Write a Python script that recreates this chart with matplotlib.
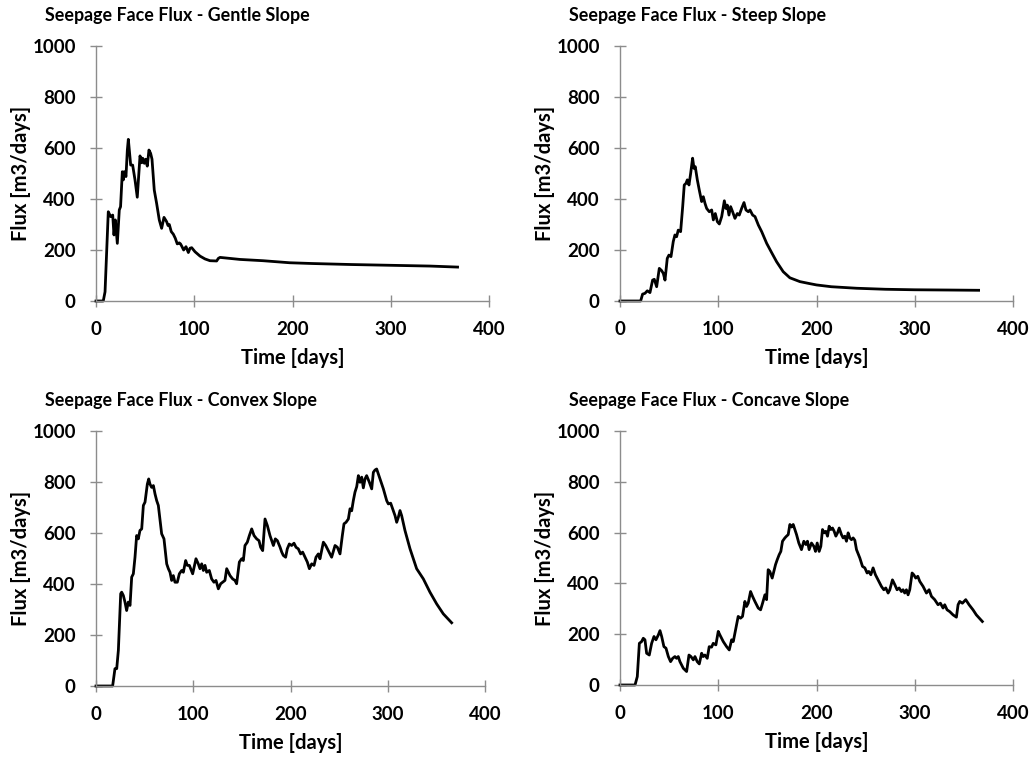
import matplotlib
matplotlib.use("Agg")
import matplotlib.pyplot as plt

plt.rcParams['font.family'] = ['Lato', 'DejaVu Sans']

# ---- data ----
gentle_t = [0, 7.4, 9.2, 12.5, 14.9, 17, 18.3, 19.7, 21.7, 23.7, 25, 26.8, 27.8, 28.8, 30.5, 31.9, 32.9,
            33.9, 35.3, 37.3, 39.7, 42, 44.8, 46.5, 47.5, 49.2, 50.5, 52.2, 53.9, 55.6, 57, 59.3, 61.7,
            64.4, 66.8, 69.2, 71.9, 73.3, 74.6, 76.6, 78.7, 80.7, 82.7, 84.7, 86, 87.4, 89.2, 91.6, 94,
            95.7, 97.4, 100.8, 105.9, 110.9, 116, 122.8, 124.5, 126.2, 146.5, 170, 197, 220, 260, 300,
            340, 368]
gentle_q = [0, 0, 36, 350, 331, 337, 259, 318, 226, 357, 370, 507, 475, 507, 488, 592, 634,
            592, 533, 533, 475, 407, 569, 542, 560, 540, 556, 529, 592, 579, 556, 435, 383,
            318, 285, 328, 311, 296, 300, 272, 262, 246, 224, 228, 224, 214, 200, 213, 190,
            207, 209, 193, 176, 165, 158, 157, 167, 171, 163, 158, 150, 147, 143, 140,
            137, 133]

steep_t = [0, 21, 23, 25.4, 27.8, 30.5, 33.2, 34.9, 37.3, 40, 42.4, 44.1, 45.8, 48.1, 49.8, 51.9, 54.2,
           55.9, 57.6, 59.3, 61.7, 63.8, 65.4, 67.1, 68.5, 70.2, 71.9, 73.9, 75.3, 76.6, 78.7, 80.7,
           83.1, 84.8, 86.5, 88.2, 90.9, 93.3, 95, 97, 99.1, 101.1, 103.5, 106.2, 107.8, 109.2, 110.9,
           112.6, 114.6, 117, 119.4, 121.4, 123.8, 126.2, 128.2, 130.6, 132.3, 135, 137.4, 140.8,
           144.2, 149.3, 154.3, 159.4, 166.1, 172.9, 183.1, 193.3, 200, 215, 240.8, 270, 300, 335, 365]
steep_q = [0, 0, 27, 30, 40, 33, 82, 85, 56, 128, 119, 108, 82, 167, 180, 174, 233,
           259, 252, 278, 272, 370, 455, 461, 475, 455, 500, 560, 520, 527, 475, 435,
           390, 409, 383, 363, 350, 357, 318, 343, 311, 302, 331, 393, 363, 376, 337,
           370, 350, 324, 343, 337, 363, 386, 357, 350, 357, 337, 331, 298,
           272, 226, 190, 154, 115, 91, 76, 68, 63, 56, 50, 46, 44, 43, 42]

convex_t = [0, 17.1, 19.5, 21.3, 23, 25.4, 26.4, 28.1, 29.8, 31.5, 33.2, 35, 36.7, 38.4, 40.1, 41.8,
            43.5, 45.2, 47, 48.7, 50.4, 52.8, 54.2, 55.5, 57.2, 59, 60.7, 62.4, 64.1, 67.5, 69.9,
            72.7, 74.4, 76.1, 77.8, 79.5, 81.2, 83.6, 85.7, 88.1, 89.8, 92.2, 93.9, 96, 97.3, 99.4,
            102.8, 105.2, 106.9, 108.7, 110.4, 112.1, 113.8, 116.5, 118.9, 121.3, 123.4, 125.8,
            128.2, 130.2, 132.6, 134.4, 137.8, 140.5, 142.9, 144.6, 147.4, 149.8, 151.5, 153.2,
            155.6, 157.7, 160.1, 162.5, 165.2, 167.6, 169.3, 171.4, 173.8, 176.2, 178.9, 180.7,
            182.4, 184.4, 186.5, 189.3, 191, 192.6, 195, 196.7, 198.8, 201.2, 203.6, 205.7, 208,
            210.4, 212.5, 214.9, 217.3, 219.4, 221.8, 224.2, 226.2, 228.6, 230.3, 233.8, 236.2,
            238.9, 242.3, 245.8, 248.2, 250.9, 253.3, 255, 257.1, 259.5, 261.2, 262.9, 264.6,
            266.3, 268.1, 269.8, 271.5, 273.2, 274.9, 276.6, 278.3, 281.1, 283.5, 285.2, 286.9,
            288.6, 290.3, 292.7, 295.5, 298.9, 300.6, 303, 305.7, 307.5, 309.2, 310.9, 312.6,
            314.3, 317.7, 322.9, 329.7, 336.6, 343.4, 350.3, 357.1, 365.7]
convex_q = [0, 0, 68, 68, 140, 362, 368, 355, 329, 296, 329, 316, 427, 440, 505, 590,
            577, 610, 616, 708, 721, 792, 812, 792, 779, 786, 753, 727, 708, 597, 577,
            479, 460, 446, 414, 433, 407, 407, 440, 453, 446, 492, 473, 473, 460, 440,
            499, 479, 460, 479, 453, 473, 446, 453, 420, 407, 414, 381,
            401, 407, 414, 460, 433, 420, 414, 401, 486, 499, 492, 551,
            564, 590, 616, 590, 577, 570, 544, 531, 655, 629, 590, 570,
            551, 577, 570, 544, 525, 512, 505, 538, 557, 551, 560, 544, 538,
            518, 525, 505, 486, 460, 479, 473, 505, 518, 499, 564, 551,
            531, 505, 551, 544, 518, 590, 636, 642, 655, 695, 687, 727,
            760, 782, 825, 799, 819, 777, 812, 825, 799, 773, 838, 847,
            851, 832, 805, 773, 727, 714, 717, 688, 668, 642, 662, 688,
            668, 610, 538, 460, 420, 368, 322, 283, 248]

concave_t = [0, 15.3, 17.6, 19.7, 22, 23.7, 25.4, 27.1, 29.8, 32.2, 34.6, 36.6, 39, 40.7, 42.4, 44.7,
             46.8, 49.2, 51.5, 53.6, 55.9, 57.6, 59.3, 61, 64.4, 67.8, 70.2, 72.2, 74.6, 76.3, 78.6,
             80.7, 83.1, 84.7, 86.4, 88.8, 90.8, 93.2, 94.9, 97.6, 100, 101.7, 105.1, 108.5, 111.2,
             113.6, 115.3, 118, 120.3, 122.7, 124.7, 127.1, 128.8, 130.5, 132.9, 134.9, 137.3, 140.7,
             143.1, 145.1, 147.5, 149.2, 150.8, 152.5, 154.9, 156.6, 158.3, 160, 162, 163.7, 165.4,
             167.8, 169.5, 171.2, 172.9, 174.6, 176.3, 178, 179.7, 182, 184.7, 187.1, 189.2, 190.8,
             192.5, 194.9, 197.3, 199, 200.7, 202.7, 204.4, 206.1, 207.8, 209.5, 211.2, 212.9, 214.6,
             216.3, 218, 219.7, 221.4, 223.1, 225.4, 227.1, 228.8, 230.5, 232.2, 233.9, 235.6, 237.3,
             239, 240.7, 244.1, 246.8, 249.2, 251.5, 253.2, 255.3, 257.6, 260, 262.7, 266.1, 268.5,
             270.5, 272.9, 274.6, 277.3, 279.7, 282, 284.1, 286.4, 288.1, 289.8, 291.5, 293.2, 294.9,
             297.3, 299, 301, 303.1, 305.1, 308.5, 311.9, 314.6, 317, 320.3, 323.7, 326.1, 328.8,
             330.5, 332.9, 335.6, 339, 342.4, 344.1, 345.8, 348.5, 351.9, 355.3, 359.3, 362.7, 368.8]
concave_q = [0, 0, 33, 164, 171, 184, 178, 125, 118, 164, 191, 178, 197, 214, 191, 151,
             145, 112, 92, 105, 112, 105, 112, 92, 66, 53, 118, 112, 99, 112, 92,
             83, 125, 112, 118, 105, 151, 149, 164, 158, 211, 197, 171, 151, 138,
             178, 171, 224, 270, 263, 270, 329, 309, 322, 368, 349, 329, 303,
             296, 322, 355, 336, 454, 447, 421, 447, 474, 493, 513, 526, 566,
             579, 586, 592, 632, 622, 632, 612, 592, 559, 533, 566, 553, 566,
             533, 559, 546, 526, 559, 526, 546, 612, 599, 605, 586, 625, 612,
             618, 605, 586, 599, 618, 592, 579, 586, 566, 599, 579, 572, 579,
             570, 533, 500, 467, 461, 441, 447, 434, 461, 434, 414, 388, 375,
             382, 362, 375, 414, 395, 375, 382, 368, 375, 362, 375, 355, 375,
             441, 434, 421, 428, 408, 388, 362, 375, 349, 336, 316, 322, 303,
             316, 296, 289, 276, 267, 316, 329, 322, 336, 316, 296, 276, 250]

titles = ["Seepage Face Flux - Gentle Slope", "Seepage Face Flux - Steep Slope",
          "Seepage Face Flux - Convex Slope", "Seepage Face Flux - Concave Slope"]
xticks = [0, 100, 200, 300, 400]
yticks = [0, 200, 400, 600, 800, 1000]
xlabel = "Time [days]"
ylabel = "Flux [m3/days]"

W, H = 1032, 757
fig = plt.figure(figsize=(W / 100, H / 100), dpi=100)

# axes boxes in pixels: (left, right, top(1000), bottom(0))
boxes = [(96, 489, 46, 301), (620, 1013, 46, 301),
         (96, 485, 431, 686), (620, 1013, 431, 685)]
series = [(gentle_t, gentle_q), (steep_t, steep_q), (convex_t, convex_q), (concave_t, concave_q)]
grey = '#8c8c8c'

for (l, r, t, b), (xs, ys), title in zip(boxes, series, titles):
    ax = fig.add_axes([l / W, 1 - b / H, (r - l) / W, (b - t) / H])
    ax.plot(xs, ys, color='black', lw=2.0, solid_joinstyle='round', clip_on=False)
    ax.set_xlim(0, 400)
    ax.set_ylim(0, 1000)
    ax.set_xticks(xticks)
    ax.set_yticks(yticks)
    for s in ['top', 'right']:
        ax.spines[s].set_visible(False)
    for s in ['left', 'bottom']:
        ax.spines[s].set_color(grey)
        ax.spines[s].set_linewidth(1.0)
    ax.tick_params(direction='inout', length=9, width=1.0, color=grey, labelsize=13.5)
    ax.tick_params(axis='x', pad=10)
    ax.tick_params(axis='y', pad=10)
    for lab in ax.get_xticklabels() + ax.get_yticklabels():
        lab.set_fontweight('bold')
    ax.set_xlabel(xlabel, fontsize=14.5, fontweight='bold', labelpad=7)
    ax.set_ylabel(ylabel, fontsize=14.5, fontweight='bold', labelpad=1)
    fig.text((l - 51) / W, 1 - (t - 31) / H, title, fontsize=12.9, fontweight='bold',
             ha='left', va='center')

fig.savefig('out.png', dpi=100, facecolor='white')
